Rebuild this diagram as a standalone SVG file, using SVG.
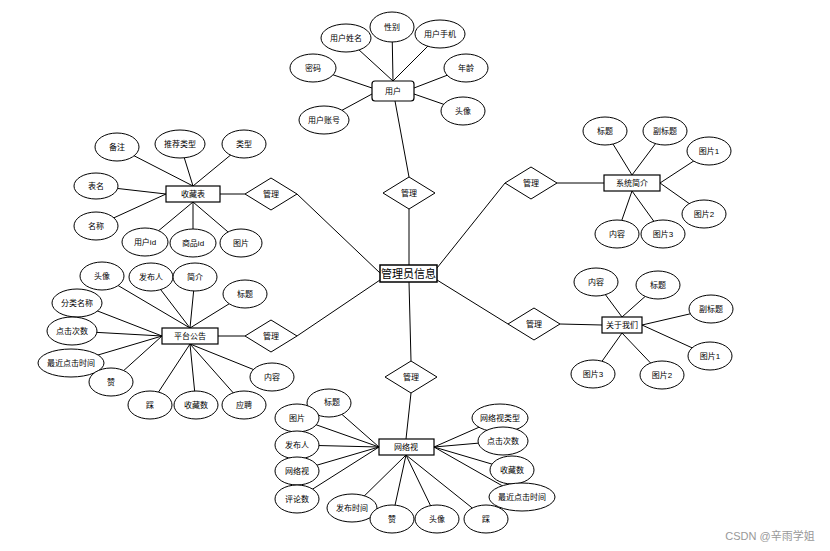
<svg xmlns="http://www.w3.org/2000/svg" width="830" height="551" viewBox="0 0 830 551">
<style>
text{font-family:"Liberation Sans","Noto Sans CJK SC",sans-serif;font-size:8px;fill:#000;text-anchor:middle;dominant-baseline:central}
.e{fill:#fff;stroke:#000;stroke-width:1}
.r{fill:#fff;stroke:#000;stroke-width:1.2}
.d{fill:#fff;stroke:#000;stroke-width:1}
#conn line{stroke:#000;stroke-width:1}
.big{font-size:11px}
.wm{font-size:11px;fill:#999}
</style>
<rect width="830" height="551" fill="#fff"/>
<g id="conn">
<line x1="393" y1="81" x2="346" y2="38"/>
<line x1="393" y1="81" x2="392" y2="27"/>
<line x1="393" y1="81" x2="440" y2="34"/>
<line x1="372" y1="88" x2="313" y2="68"/>
<line x1="414" y1="88" x2="466" y2="68"/>
<line x1="372" y1="94" x2="324" y2="120"/>
<line x1="414" y1="94" x2="463" y2="111"/>
<line x1="395" y1="101" x2="409" y2="177"/>
<line x1="409" y1="209" x2="409" y2="265"/>
<line x1="193" y1="186" x2="117" y2="147"/>
<line x1="193" y1="186" x2="180" y2="144"/>
<line x1="193" y1="186" x2="244" y2="144"/>
<line x1="166" y1="194" x2="96" y2="186"/>
<line x1="166" y1="194" x2="96" y2="226"/>
<line x1="193" y1="202" x2="145" y2="242"/>
<line x1="193" y1="202" x2="193" y2="243"/>
<line x1="193" y1="202" x2="241" y2="243"/>
<line x1="220" y1="194" x2="245" y2="194"/>
<line x1="297" y1="194" x2="380" y2="273"/>
<line x1="632" y1="175" x2="605" y2="131"/>
<line x1="632" y1="175" x2="665" y2="131"/>
<line x1="660" y1="183" x2="709" y2="151"/>
<line x1="660" y1="183" x2="704" y2="214"/>
<line x1="632" y1="191" x2="617" y2="234"/>
<line x1="632" y1="191" x2="663" y2="234"/>
<line x1="557" y1="183" x2="604" y2="183"/>
<line x1="505" y1="183" x2="437" y2="268"/>
<line x1="190" y1="328" x2="102" y2="276"/>
<line x1="190" y1="328" x2="151" y2="277"/>
<line x1="190" y1="328" x2="195" y2="277"/>
<line x1="190" y1="328" x2="245" y2="294"/>
<line x1="162" y1="336" x2="77" y2="303"/>
<line x1="162" y1="336" x2="72" y2="331"/>
<line x1="162" y1="336" x2="71" y2="363"/>
<line x1="162" y1="336" x2="111" y2="382"/>
<line x1="190" y1="344" x2="150" y2="405"/>
<line x1="190" y1="344" x2="196" y2="405"/>
<line x1="190" y1="344" x2="244" y2="405"/>
<line x1="190" y1="344" x2="272" y2="377"/>
<line x1="218" y1="336" x2="245" y2="336"/>
<line x1="297" y1="336" x2="380" y2="280"/>
<line x1="622" y1="317" x2="596" y2="282"/>
<line x1="622" y1="317" x2="658" y2="285"/>
<line x1="642" y1="325" x2="711" y2="309"/>
<line x1="642" y1="325" x2="710" y2="356"/>
<line x1="622" y1="333" x2="593" y2="374"/>
<line x1="622" y1="333" x2="662" y2="375"/>
<line x1="560" y1="324" x2="602" y2="325"/>
<line x1="508" y1="324" x2="437" y2="280"/>
<line x1="409" y1="282" x2="411" y2="361"/>
<line x1="411" y1="393" x2="406" y2="439"/>
<line x1="379" y1="447" x2="329" y2="403"/>
<line x1="379" y1="447" x2="297" y2="418"/>
<line x1="379" y1="447" x2="297" y2="445"/>
<line x1="379" y1="447" x2="297" y2="471"/>
<line x1="379" y1="447" x2="297" y2="499"/>
<line x1="406" y1="455" x2="352" y2="508"/>
<line x1="406" y1="455" x2="392" y2="519"/>
<line x1="406" y1="455" x2="437" y2="519"/>
<line x1="406" y1="455" x2="486" y2="519"/>
<line x1="434" y1="447" x2="500" y2="418"/>
<line x1="434" y1="447" x2="503" y2="441"/>
<line x1="434" y1="447" x2="512" y2="470"/>
<line x1="434" y1="447" x2="522" y2="497"/>
</g>

<g id="admin"><rect class="r" x="380" y="265" width="57" height="17" style="stroke-width:1.5"/><text class="big" x="408.5" y="273.5">管理员信息</text></g>

<g id="user"><rect class="r" x="372" y="81" width="42" height="20" rx="3"/><text x="393" y="91">用户</text></g>
<g id="u1"><ellipse class="e" cx="346" cy="38" rx="25" ry="14"/><text x="346" y="38">用户姓名</text></g>
<g id="u2"><ellipse class="e" cx="392" cy="27" rx="22" ry="15"/><text x="392" y="27">性别</text></g>
<g id="u3"><ellipse class="e" cx="440" cy="34" rx="25" ry="14"/><text x="440" y="34">用户手机</text></g>
<g id="u4"><ellipse class="e" cx="313" cy="68" rx="23" ry="14"/><text x="313" y="68">密码</text></g>
<g id="u5"><ellipse class="e" cx="466" cy="68" rx="22" ry="14"/><text x="466" y="68">年龄</text></g>
<g id="u6"><ellipse class="e" cx="324" cy="120" rx="25" ry="14"/><text x="324" y="120">用户账号</text></g>
<g id="u7"><ellipse class="e" cx="463" cy="111" rx="22" ry="14"/><text x="463" y="111">头像</text></g>
<g id="m1"><polygon class="d" points="383,193 409,177 435,193 409,209"/><text x="409" y="193">管理</text></g>

<g id="fav"><rect class="r" x="166" y="186" width="54" height="16"/><text x="193" y="194">收藏表</text></g>
<g id="f1"><ellipse class="e" cx="117" cy="147" rx="22" ry="14"/><text x="117" y="147">备注</text></g>
<g id="f2"><ellipse class="e" cx="180" cy="144" rx="25" ry="14"/><text x="180" y="144">推荐类型</text></g>
<g id="f3"><ellipse class="e" cx="244" cy="144" rx="22" ry="14"/><text x="244" y="144">类型</text></g>
<g id="f4"><ellipse class="e" cx="96" cy="186" rx="22" ry="13"/><text x="96" y="186">表名</text></g>
<g id="f5"><ellipse class="e" cx="96" cy="226" rx="22" ry="14"/><text x="96" y="226">名称</text></g>
<g id="f6"><ellipse class="e" cx="145" cy="242" rx="23" ry="14"/><text x="145" y="242">用户id</text></g>
<g id="f7"><ellipse class="e" cx="193" cy="243" rx="23" ry="14"/><text x="193" y="243">商品id</text></g>
<g id="f8"><ellipse class="e" cx="241" cy="243" rx="21" ry="14"/><text x="241" y="243">图片</text></g>
<g id="m2"><polygon class="d" points="245,194 271,178 297,194 271,210"/><text x="271" y="194">管理</text></g>

<g id="sys"><rect class="r" x="604" y="175" width="56" height="16"/><text x="632" y="183">系统简介</text></g>
<g id="s1"><ellipse class="e" cx="605" cy="131" rx="22" ry="14"/><text x="605" y="131">标题</text></g>
<g id="s2"><ellipse class="e" cx="665" cy="131" rx="22" ry="14"/><text x="665" y="131">副标题</text></g>
<g id="s3"><ellipse class="e" cx="709" cy="151" rx="22" ry="14"/><text x="709" y="151">图片1</text></g>
<g id="s4"><ellipse class="e" cx="704" cy="214" rx="22" ry="14"/><text x="704" y="214">图片2</text></g>
<g id="s5"><ellipse class="e" cx="617" cy="234" rx="22" ry="14"/><text x="617" y="234">内容</text></g>
<g id="s6"><ellipse class="e" cx="663" cy="234" rx="22" ry="14"/><text x="663" y="234">图片3</text></g>
<g id="m3"><polygon class="d" points="505,183 531,167 557,183 531,199"/><text x="531" y="183">管理</text></g>

<g id="ann"><rect class="r" x="162" y="328" width="56" height="16"/><text x="190" y="336">平台公告</text></g>
<g id="a1"><ellipse class="e" cx="102" cy="276" rx="22" ry="14"/><text x="102" y="276">头像</text></g>
<g id="a2"><ellipse class="e" cx="151" cy="277" rx="22" ry="14"/><text x="151" y="277">发布人</text></g>
<g id="a3"><ellipse class="e" cx="195" cy="277" rx="22" ry="14"/><text x="195" y="277">简介</text></g>
<g id="a4"><ellipse class="e" cx="245" cy="294" rx="22" ry="14"/><text x="245" y="294">标题</text></g>
<g id="a5"><ellipse class="e" cx="77" cy="303" rx="25" ry="14"/><text x="77" y="303">分类名称</text></g>
<g id="a6"><ellipse class="e" cx="72" cy="331" rx="25" ry="14"/><text x="72" y="331">点击次数</text></g>
<g id="a7"><ellipse class="e" cx="71" cy="363" rx="33" ry="14"/><text x="71" y="363">最近点击时间</text></g>
<g id="a8"><ellipse class="e" cx="111" cy="382" rx="22" ry="14"/><text x="111" y="382">赞</text></g>
<g id="a9"><ellipse class="e" cx="150" cy="405" rx="22" ry="14"/><text x="150" y="405">踩</text></g>
<g id="a10"><ellipse class="e" cx="196" cy="405" rx="22" ry="14"/><text x="196" y="405">收藏数</text></g>
<g id="a11"><ellipse class="e" cx="244" cy="405" rx="22" ry="14"/><text x="244" y="405">应聘</text></g>
<g id="a12"><ellipse class="e" cx="272" cy="377" rx="22" ry="14"/><text x="272" y="377">内容</text></g>
<g id="m4"><polygon class="d" points="245,336 271,320 297,336 271,352"/><text x="271" y="336">管理</text></g>

<g id="about"><rect class="r" x="602" y="317" width="40" height="16"/><text x="622" y="325">关于我们</text></g>
<g id="b1"><ellipse class="e" cx="596" cy="282" rx="22" ry="14"/><text x="596" y="282">内容</text></g>
<g id="b2"><ellipse class="e" cx="658" cy="285" rx="22" ry="14"/><text x="658" y="285">标题</text></g>
<g id="b3"><ellipse class="e" cx="711" cy="309" rx="22" ry="14"/><text x="711" y="309">副标题</text></g>
<g id="b4"><ellipse class="e" cx="710" cy="356" rx="22" ry="14"/><text x="710" y="356">图片1</text></g>
<g id="b5"><ellipse class="e" cx="593" cy="374" rx="22" ry="14"/><text x="593" y="374">图片3</text></g>
<g id="b6"><ellipse class="e" cx="662" cy="375" rx="22" ry="14"/><text x="662" y="375">图片2</text></g>
<g id="m5"><polygon class="d" points="508,324 534,308 560,324 534,340"/><text x="534" y="324">管理</text></g>

<g id="net"><rect class="r" x="379" y="439" width="55" height="16"/><text x="406" y="447">网络视</text></g>
<g id="n1"><ellipse class="e" cx="329" cy="403" rx="22" ry="14"/><text x="332" y="402">标题</text></g>
<g id="n2"><ellipse class="e" cx="297" cy="418" rx="22" ry="14"/><text x="297" y="418">图片</text></g>
<g id="n3"><ellipse class="e" cx="297" cy="445" rx="22" ry="14"/><text x="297" y="445">发布人</text></g>
<g id="n4"><ellipse class="e" cx="297" cy="471" rx="22" ry="14"/><text x="297" y="471">网络视</text></g>
<g id="n5"><ellipse class="e" cx="297" cy="499" rx="22" ry="14"/><text x="297" y="499">评论数</text></g>
<g id="n6"><ellipse class="e" cx="352" cy="508" rx="25" ry="14"/><text x="352" y="508">发布时间</text></g>
<g id="n7"><ellipse class="e" cx="392" cy="519" rx="22" ry="14"/><text x="392" y="519">赞</text></g>
<g id="n8"><ellipse class="e" cx="437" cy="519" rx="22" ry="14"/><text x="437" y="519">头像</text></g>
<g id="n9"><ellipse class="e" cx="486" cy="519" rx="22" ry="14"/><text x="486" y="519">踩</text></g>
<g id="n10"><ellipse class="e" cx="500" cy="418" rx="28" ry="14"/><text x="500" y="418">网络视类型</text></g>
<g id="n11"><ellipse class="e" cx="503" cy="441" rx="25" ry="14"/><text x="503" y="441">点击次数</text></g>
<g id="n12"><ellipse class="e" cx="512" cy="470" rx="22" ry="14"/><text x="512" y="470">收藏数</text></g>
<g id="n13"><ellipse class="e" cx="522" cy="497" rx="33" ry="14"/><text x="522" y="497">最近点击时间</text></g>
<g id="m6"><polygon class="d" points="385,377 411,361 437,377 411,393"/><text x="411" y="377">管理</text></g>

<text class="wm" x="770" y="536">CSDN @辛雨学姐</text>
</svg>
